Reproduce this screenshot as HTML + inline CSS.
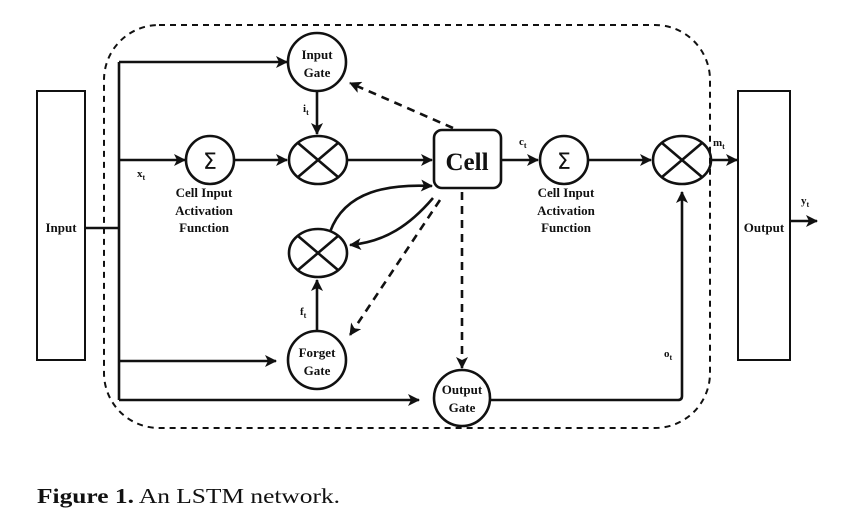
<!DOCTYPE html>
<html><head><style>
html,body{margin:0;padding:0;background:#fff;}
svg{display:block;}
text{font-family:"Liberation Serif",serif;font-weight:bold;fill:#111;}
</style></head><body>
<svg width="865" height="530" viewBox="0 0 865 530" xmlns="http://www.w3.org/2000/svg">
<defs>
<marker id="a" markerWidth="12" markerHeight="12" refX="11" refY="6" orient="auto" markerUnits="userSpaceOnUse">
<path d="M0,0 L12,6 L0,12 L3,6 z" fill="#111"/></marker>
</defs>
<g stroke="#111" fill="none" stroke-width="2.6">
<rect x="104" y="25" width="606" height="403" rx="55" stroke-dasharray="6,5" stroke-width="2"/>
<rect x="37" y="91" width="48" height="269" stroke-width="2"/>
<rect x="738" y="91" width="52" height="269" stroke-width="2"/>
<line x1="85" y1="228" x2="119" y2="228"/>
<line x1="119" y1="62" x2="119" y2="400"/>
<line x1="119" y1="62" x2="287" y2="62" marker-end="url(#a)"/>
<line x1="119" y1="160" x2="185" y2="160" marker-end="url(#a)"/>
<line x1="119" y1="361" x2="276" y2="361" marker-end="url(#a)"/>
<line x1="119" y1="400" x2="419" y2="400" marker-end="url(#a)"/>
<circle cx="317" cy="62" r="29"/>
<circle cx="317" cy="360" r="29"/>
<circle cx="462" cy="398" r="28"/>
<circle cx="210" cy="160" r="24"/>
<circle cx="564" cy="160" r="24"/>
<ellipse cx="318" cy="160" rx="29" ry="24"/>
<ellipse cx="318" cy="253" rx="29" ry="24"/>
<ellipse cx="682" cy="160" rx="29" ry="24"/>
<path d="M298,143 L338,177 M338,143 L298,177"/>
<path d="M298,236 L338,270 M338,236 L298,270"/>
<path d="M662,143 L702,177 M702,143 L662,177"/>
<rect x="434" y="130" width="67" height="58" rx="8"/>
<line x1="234" y1="160" x2="287" y2="160" marker-end="url(#a)"/>
<line x1="317" y1="91" x2="317" y2="134" marker-end="url(#a)"/>
<line x1="347" y1="160" x2="432" y2="160" marker-end="url(#a)"/>
<line x1="317" y1="331" x2="317" y2="280" marker-end="url(#a)"/>
<line x1="501" y1="160" x2="538" y2="160" marker-end="url(#a)"/>
<line x1="588" y1="160" x2="651" y2="160" marker-end="url(#a)"/>
<line x1="711" y1="160" x2="737" y2="160" marker-end="url(#a)"/>
<line x1="790" y1="221" x2="817" y2="221" marker-end="url(#a)"/>
<path d="M490,400 L678,400 Q682,400 682,396 L682,192" marker-end="url(#a)"/>
<path d="M330,232 C345,190 390,184 432,186" marker-end="url(#a)"/>
<path d="M433,198 C410,225 385,242 350,245" marker-end="url(#a)"/>
<g stroke-dasharray="8,6">
<line x1="453" y1="128" x2="350" y2="83" marker-end="url(#a)"/>
<line x1="440" y1="200" x2="350" y2="335" marker-end="url(#a)"/>
<line x1="462" y1="192" x2="462" y2="368" marker-end="url(#a)"/>
</g>
</g>
<g font-size="13" text-anchor="middle">
<text x="317" y="59">Input</text><text x="317" y="77">Gate</text>
<text x="317" y="357">Forget</text><text x="317" y="375">Gate</text>
<text x="462" y="394">Output</text><text x="462" y="412">Gate</text>
<text x="204" y="197">Cell Input</text><text x="204" y="215">Activation</text><text x="204" y="232">Function</text>
<text x="566" y="197">Cell Input</text><text x="566" y="215">Activation</text><text x="566" y="232">Function</text>
<text x="61" y="232">Input</text>
<text x="764" y="232">Output</text>
</g>
<text x="467" y="170" font-size="25" text-anchor="middle">Cell</text>
<text x="210" y="169" font-size="22" text-anchor="middle" style="font-family:'DejaVu Sans',sans-serif;font-weight:normal">Σ</text>
<text x="564" y="169" font-size="22" text-anchor="middle" style="font-family:'DejaVu Sans',sans-serif;font-weight:normal">Σ</text>
<g font-size="11">
<text x="137" y="177">x<tspan font-size="8" dy="3">t</tspan></text>
<text x="303" y="112">i<tspan font-size="8" dy="3">t</tspan></text>
<text x="300" y="315">f<tspan font-size="8" dy="3">t</tspan></text>
<text x="519" y="145">c<tspan font-size="8" dy="3">t</tspan></text>
<text x="713" y="146">m<tspan font-size="8" dy="3">t</tspan></text>
<text x="801" y="204">y<tspan font-size="8" dy="3">t</tspan></text>
<text x="664" y="357">o<tspan font-size="8" dy="3">t</tspan></text>
</g>
<text x="37" y="503" font-size="21" textLength="303" lengthAdjust="spacingAndGlyphs" style="font-family:'Liberation Serif',serif"><tspan font-weight="bold">Figure 1.</tspan><tspan font-weight="normal"> An LSTM network.</tspan></text>
</svg>
</body></html>
